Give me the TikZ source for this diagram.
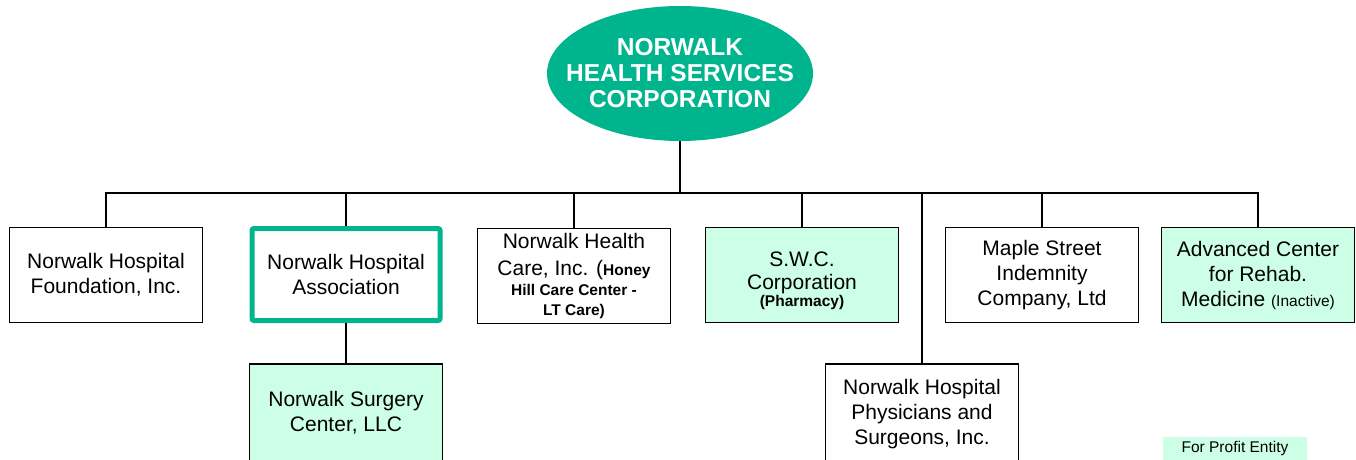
\documentclass[tikz,border=0pt]{standalone}
\usepackage{fontspec}
\setmainfont{Liberation Sans}
\usetikzlibrary{shapes.geometric}
\definecolor{nhgreen}{RGB}{0,181,142}
\definecolor{fpgreen}{RGB}{204,255,229}
\newcommand\smallfnt{\fontsize{15.5}{18}\selectfont}
\begin{document}
\begin{tikzpicture}[x=1pt,y=-1pt,
  entity/.style={draw=black, line width=1.8pt, rectangle, inner sep=0pt,
    minimum width=193pt, minimum height=95pt, align=center,
    font=\fontsize{21}{25}\selectfont},
  forprofit/.style={entity, fill=fpgreen},
  parentbox/.style={entity, draw=nhgreen, line width=5pt, rounded corners=2pt,
    minimum width=188pt, minimum height=92pt},
  topnode/.style={ellipse, fill=nhgreen, inner xsep=-80pt, inner ysep=-50pt,
    minimum width=266pt, minimum height=135pt, align=center, text=white,
    font=\fontsize{24.5}{26}\selectfont\bfseries},
  legendbox/.style={rectangle, fill=fpgreen, inner sep=0pt, minimum width=144pt,
    minimum height=23pt, font=\fontsize{15.5}{18}\selectfont},
  conn/.style={draw=black, line width=1.8pt},
]
\useasboundingbox (0,0) rectangle (1356,460);
\clip (0,0) rectangle (1356,460);

\node[topnode] (top) at (680,73.5) {NORWALK\\HEALTH SERVICES\\CORPORATION};

\node[entity] (b1) at (106,275) {Norwalk Hospital\\Foundation, Inc.};
\node[parentbox] (b2) at (346,274.5) {Norwalk Hospital\\Association};
\node[entity] (b3) at (574,276) {Norwalk Health\\[2pt]Care, Inc. (\textbf{\smallfnt Honey}\\[-5pt]{\smallfnt\bfseries Hill Care Center -}\\[-5pt]{\smallfnt\bfseries LT Care)}};
\node[forprofit] (b4) at (802,275) {\rule{0pt}{26pt}S.W.C.\\[-2pt]Corporation\\[-8pt]{\smallfnt\bfseries (Pharmacy)}};
\node[entity] (b5) at (1042,275) {Maple Street\\Indemnity\\Company, Ltd};
\node[forprofit] (b6) at (1258,275) {Advanced Center\\for Rehab.\\Medicine {\smallfnt(Inactive)}};

\node[forprofit, minimum height=98pt] (s1) at (346,413) {Norwalk Surgery\\Center, LLC};
\node[entity, minimum height=100pt] (s2) at (922,414) {Norwalk Hospital\\Physicians and\\Surgeons, Inc.};

\node[legendbox] (legend) at (1235,448.5) {For Profit Entity};

\coordinate (bar) at (680,193);
\draw[conn] (top.south) -- (bar);
\draw[conn] (b1.north) -- (b1.north |- bar) -- (b6.north |- bar) -- (b6.north);
\draw[conn] (b2.north) -- (b2.north |- bar);
\draw[conn] (b3.north) -- (b3.north |- bar);
\draw[conn] (b4.north) -- (b4.north |- bar);
\draw[conn] (b5.north) -- (b5.north |- bar);
\draw[conn] (s2.north) -- (s2.north |- bar);
\draw[conn] (b2.south) -- (s1.north);
\end{tikzpicture}
\end{document}
